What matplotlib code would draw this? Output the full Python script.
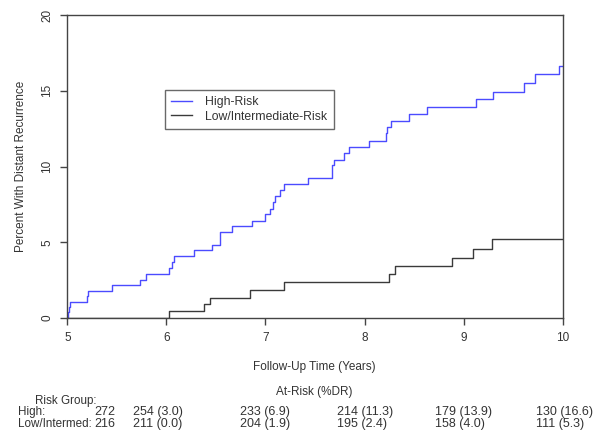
import numpy as np
import matplotlib
matplotlib.use('agg')
import matplotlib.pyplot as plt
import matplotlib.transforms as mtransforms

plt.rcParams['font.family'] = ['Liberation Sans', 'DejaVu Sans']

# step curves (years, percent with distant recurrence)
high_t = [5.0, 5.005, 5.015, 5.03, 5.195, 5.21, 5.45, 5.73, 5.79, 6.03, 6.06, 6.08,
          6.28, 6.46, 6.54, 6.66, 6.86, 6.995, 7.045, 7.08, 7.10, 7.15, 7.19, 7.43,
          7.67, 7.69, 7.795, 7.845, 8.05, 8.215, 8.23, 8.27, 8.45, 8.63, 9.12, 9.30,
          9.61, 9.72, 9.96, 10.0]
high_y = [0.0, 0.37, 0.7, 1.05, 1.45, 1.81, 2.18, 2.54, 2.91, 3.31, 3.68, 4.08,
          4.48, 4.85, 5.67, 6.05, 6.42, 6.84, 7.22, 7.66, 8.03, 8.48, 8.87, 9.27,
          10.09, 10.46, 10.9, 11.26, 11.7, 12.19, 12.58, 13.0, 13.48, 13.92, 14.44, 14.94,
          15.5, 16.09, 16.66, 16.66]

low_t = [5.0, 6.03, 6.38, 6.44, 6.84, 7.19, 8.25, 8.31, 8.88, 9.09, 9.29, 10.0]
low_y = [0.0, 0.48, 0.93, 1.32, 1.85, 2.36, 2.91, 3.42, 3.97, 4.57, 5.23, 5.23]

# at-risk table
high_n0 = '272'
low_n0 = '216'
high_cells = ['254 (3.0)', '233 (6.9)', '214 (11.3)', '179 (13.9)', '130 (16.6)']
low_cells = ['211 (0.0)', '204 (1.9)', '195 (2.4)', '158 (4.0)', '111 (5.3)']
col_x = [5.663, 6.745, 7.72, 8.71, 9.73]

blue = '#4b4bff'
dark = '#3a3a3a'
txt = '#333333'
fs = 8.5
tfs = 9
rfs = 8.4

fig = plt.figure(figsize=(5.96, 4.34), dpi=100)
ax = fig.add_axes([67.3 / 596, 1 - 318 / 434, (562.7 - 67.3) / 596, (318 - 15) / 434])

ax.step(high_t, high_y, where='post', color=blue, lw=1.0, label='High-Risk')
ax.step(low_t, low_y, where='post', color=dark, lw=1.0, label='Low/Intermediate-Risk')

ax.set_xlim(5, 10)
ax.set_ylim(0, 20)
ax.set_xticks([5, 6, 7, 8, 9, 10])
ax.set_yticks([0, 5, 10, 15, 20])
for s in ax.spines.values():
    s.set_color('#444444')
    s.set_linewidth(1.0)
ax.tick_params(axis='both', length=5, width=1.0, color='#444444',
               labelsize=fs, labelcolor=txt, pad=5)
for lab in ax.get_yticklabels():
    lab.set_rotation(90)
    lab.set_va('center')

ax.set_ylabel('Percent With Distant Recurrence', fontsize=fs, color=txt)
ax.yaxis.set_label_coords(-0.082, 0.5)

leg = ax.legend(loc='upper left', bbox_to_anchor=((165 - 67.3) / 495.4, 1 - (90 - 15) / 303),
                fontsize=8.8, frameon=True, fancybox=False, handlelength=1.7,
                handletextpad=1.1, borderpad=0.5, labelspacing=0.2, borderaxespad=0)
leg.get_frame().set_edgecolor('#444444')
leg.get_frame().set_linewidth(1.0)
for t in leg.get_texts():
    t.set_color(txt)

# text below the plot
fy = lambda py: 1 - py / 434
fig.text(314 / 596, fy(367), 'Follow-Up Time (Years)', fontsize=fs, color=txt,
         ha='center', va='center')
fig.text(314 / 596, fy(392), 'At-Risk (%DR)', fontsize=fs, color=txt,
         ha='center', va='center')
fig.text(35 / 596, fy(401), 'Risk Group:', fontsize=rfs, color=txt, va='center')
fig.text(18 / 596, fy(412), 'High:', fontsize=rfs, color=txt, va='center')
fig.text(18 / 596, fy(424), 'Low/Intermed:', fontsize=rfs, color=txt, va='center')

trans = mtransforms.blended_transform_factory(ax.transData, fig.transFigure)
fig.text(5.485, fy(412), high_n0, transform=trans, fontsize=tfs, color=txt,
         ha='right', va='center')
fig.text(5.485, fy(424), low_n0, transform=trans, fontsize=tfs, color=txt,
         ha='right', va='center')
for x, h, l in zip(col_x, high_cells, low_cells):
    fig.text(x, fy(412), h, transform=trans, fontsize=tfs, color=txt, va='center')
    fig.text(x, fy(424), l, transform=trans, fontsize=tfs, color=txt, va='center')

fig.savefig('out.png', dpi=100)
plt.close(fig)
